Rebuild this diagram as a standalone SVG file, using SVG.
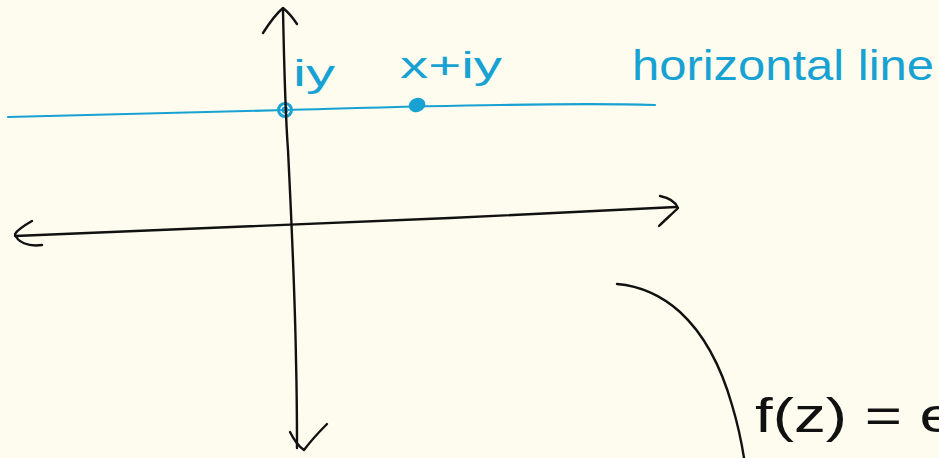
<svg xmlns="http://www.w3.org/2000/svg" width="939" height="458" viewBox="0 0 939 458">
<style>
.ink{fill:none;stroke:#111;stroke-width:2.4;stroke-linecap:round;stroke-linejoin:round}
.blue{fill:none;stroke:#17a2d3;stroke-width:2.2;stroke-linecap:round;stroke-linejoin:round}
.bt{fill:#17a2d3;font-family:"Liberation Sans",sans-serif}
.kt{fill:#111;font-family:"Liberation Sans",sans-serif}
</style>
<rect width="939" height="458" fill="#fefcee"/>
<g id="horizontal-line">
<path class="blue" d="M8,117 C120,114 220,111 285,110 C360,108 420,106 500,105 C560,104 620,104 655,105"/>
<text class="bt" x="632" y="80" font-size="42" textLength="302" lengthAdjust="spacingAndGlyphs">horizontal line</text>
</g>
<g id="point-iy">
<circle cx="285" cy="110" r="6.5" fill="none" stroke="#17a2d3" stroke-width="3"/>
<circle cx="285" cy="110" r="2.5" fill="none" stroke="#17a2d3" stroke-width="1.8"/>
<text class="bt" x="293" y="86" font-size="36" textLength="42" lengthAdjust="spacingAndGlyphs">iy</text>
</g>
<g id="point-xiy">
<ellipse cx="417" cy="105" rx="8.5" ry="7" fill="#17a2d3" transform="rotate(-20 417 105)"/>
<text class="bt" x="400" y="78" font-size="36" textLength="102" lengthAdjust="spacingAndGlyphs">x+iy</text>
</g>
<g id="axes">
<path class="ink" d="M283,10 C284,60 285,110 288,150 C292,230 295,300 296,360 C297,400 297,430 297,448"/>
<path class="ink" d="M263,33 C270,22 277,13 283,8 C288,12 293,18 297,24"/>
<path class="ink" d="M290,432 C293,438 298,446 304,450 C310,442 318,433 327,424"/>
<path class="ink" d="M15,236 C150,230 300,224 450,218 C540,214 620,210 676,207"/>
<path class="ink" d="M32,221 C25,225 18,229 15,234 C17,242 28,247 42,245"/>
<path class="ink" d="M660,196 C670,198 676,203 678,208 C672,214 665,220 659,226"/>
</g>
<g id="mapping">
<path class="ink" d="M617,284 C640,286 660,294 680,312 C705,335 722,370 732,405 C738,425 742,445 744,458"/>
<text class="kt" x="755" y="432" font-size="48" textLength="200" lengthAdjust="spacingAndGlyphs">f(z) = e</text>
</g>
</svg>
